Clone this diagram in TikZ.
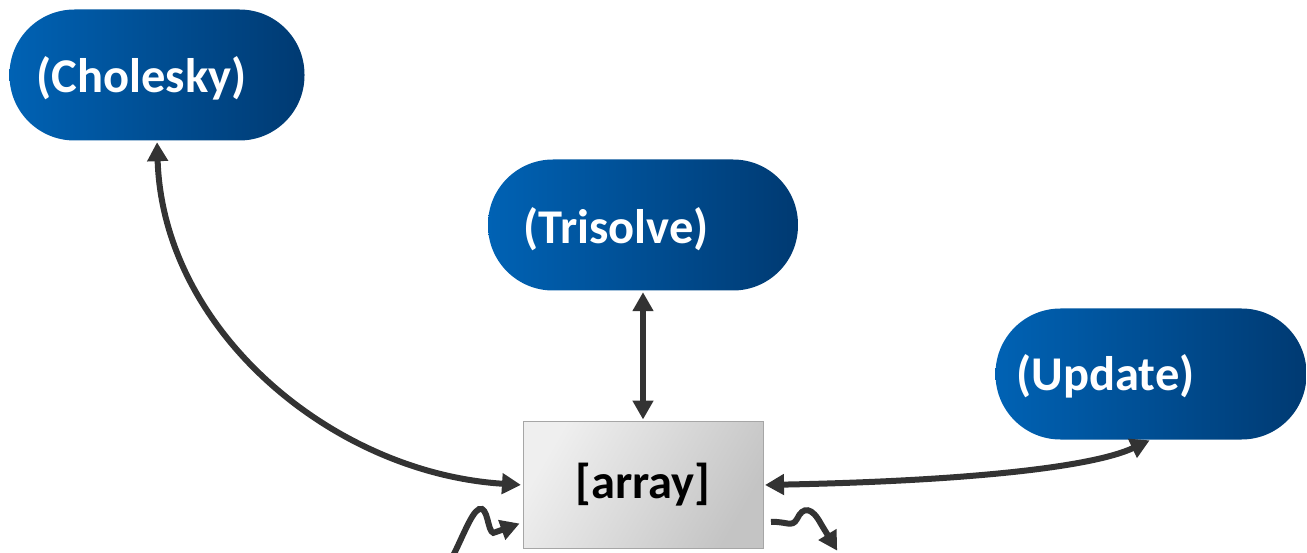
\documentclass[tikz,border=0pt]{standalone}
\usepackage{fontspec}
\setmainfont{Carlito}
\usetikzlibrary{arrows.meta}
\definecolor{pillL}{HTML}{0062B4}
\definecolor{pillR}{HTML}{003A72}
\definecolor{boxL}{HTML}{EFEFEF}
\definecolor{boxR}{HTML}{C4C4C4}
\definecolor{wire}{HTML}{333333}
\tikzset{
  pill/.style={draw=none, rounded corners=65pt, minimum height=131pt,
    inner sep=0pt, left color=pillL, right color=pillR},
  pilltext/.style={text=white, font=\fontsize{48.5}{52}\selectfont\bfseries, inner sep=0pt},
  arraybox/.style={draw=gray!70, line width=1pt, minimum width=240pt, minimum height=127pt,
    inner sep=0pt, left color=boxL, right color=boxR, shading angle=60,
    font=\fontsize{48.5}{52}\selectfont\bfseries},
  wirearrow/.style={draw=wire, line width=6pt, -{Triangle[length=19pt,width=20pt]}, shorten >=1.5pt},
  bothways/.style={draw=wire, line width=6pt,
    {Triangle[length=19pt,width=20pt]}-{Triangle[length=19pt,width=20pt]}, shorten >=1.5pt, shorten <=1.5pt},
}
\begin{document}
\begin{tikzpicture}[x=1pt,y=-1pt]
\useasboundingbox (0,0) rectangle (1307,553);

% task pills
\node[pill, minimum width=295pt, label={[pilltext, xshift=-15.5pt, yshift=-3pt]center:(Cholesky)}] (chol) at (157,75) {};
\node[pill, minimum width=310pt, label={[pilltext, xshift=-27pt, yshift=-4pt]center:(Trisolve)}] (tri) at (643,225) {};
\node[pill, minimum width=311pt, label={[pilltext, xshift=-45.5pt, yshift=-2pt]center:(Update)}] (upd) at (1151,374) {};

% shared data block
\node[arraybox] (arr) at (643,485) {[array]};

% data links
\draw[bothways] (chol.south) .. controls +(6,190) and +(-190,-12) .. (arr.west);
\draw[bothways] (tri.south) -- (arr.north);
\draw[bothways] (arr.east) .. controls +(200,-4) and +(-60,28) .. (upd.south);

% incoming and outgoing streams
\coordinate (inS) at (452,558);
\coordinate (inE) at (521,523);
\coordinate (outS) at (771,522);
\coordinate (outE) at (838,552);
\draw[wirearrow] (inS) .. controls (465,532) and (474,506) .. (482,509)
  .. controls (489,512) and (488,538) .. (496,532) -- (inE);
\draw[wirearrow] (outS) .. controls (786,521) and (792,528) .. (797,519)
  .. controls (803,506) and (812,507) .. (821,524) -- (outE);
\end{tikzpicture}
\end{document}
